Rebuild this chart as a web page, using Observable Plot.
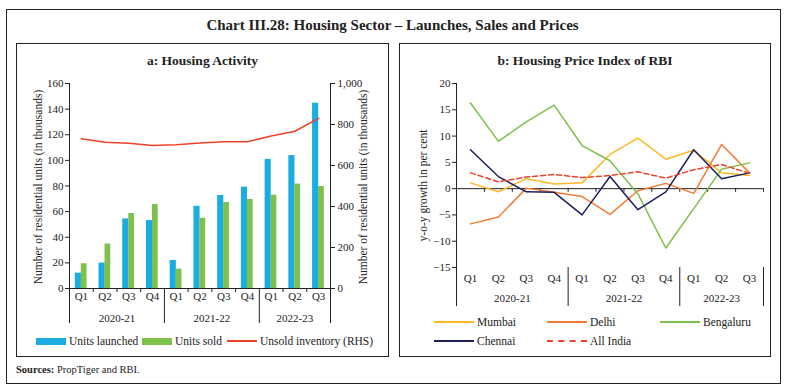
<!DOCTYPE html>
<html>
<head>
<meta charset="utf-8">
<script src="https://cdn.jsdelivr.net/npm/d3@7"></script>
<script src="https://cdn.jsdelivr.net/npm/@observablehq/plot@0.6"></script>
<style>
  html, body { margin: 0; padding: 0; background: #fff; }
  #wrap { position: relative; width: 785px; height: 387px; background: #fff; font-family: "Liberation Serif", serif; color: #222; overflow: hidden; }
  .abs { position: absolute; }
  .box { position: absolute; border: 1px solid #222; box-sizing: border-box; }
  .title { position: absolute; left: 0; width: 785px; text-align: center; font-weight: bold; font-size: 15px; top: 17px; }
  .ptitle { position: absolute; text-align: center; font-weight: bold; font-size: 13.5px; }
  .leg { position: absolute; font-size: 11.5px; line-height: 14px; white-space: nowrap; }
  .sw { position: absolute; }
  svg { overflow: visible; }
</style>
</head>
<body>
<div id="wrap">
  <div class="box" style="left:6px;top:9px;width:775px;height:375px;"></div>
  <div class="title">Chart III.28: Housing Sector – Launches, Sales and Prices</div>
  <div class="box" style="left:16px;top:43px;width:373px;height:314px;"></div>
  <div class="box" style="left:399px;top:43px;width:372px;height:314px;"></div>
  <div class="ptitle" style="left:16px;width:373px;top:53px;">a: Housing Activity</div>
  <div class="ptitle" style="left:399px;width:372px;top:53px;">b: Housing Price Index of RBI</div>
  <div id="chartA" class="abs" style="left:16px;top:43px;"></div>
  <div id="chartB" class="abs" style="left:399px;top:43px;"></div>

  <!-- legend a -->
  <div class="sw" style="left:36px;top:338px;width:30px;height:7px;background:#1AACE3;"></div>
  <div class="leg" style="left:69px;top:334px;">Units launched</div>
  <div class="sw" style="left:142px;top:338px;width:30px;height:7px;background:#7DC04B;"></div>
  <div class="leg" style="left:175px;top:334px;">Units sold</div>
  <div class="sw" style="left:227px;top:340px;width:30px;height:2px;background:#EF4129;"></div>
  <div class="leg" style="left:260px;top:334px;">Unsold inventory (RHS)</div>

  <!-- legend b -->
  <div class="sw" style="left:434px;top:321px;width:40px;height:2px;background:#FDB827;"></div>
  <div class="leg" style="left:477px;top:315px;">Mumbai</div>
  <div class="sw" style="left:547px;top:321px;width:40px;height:2px;background:#F47B34;"></div>
  <div class="leg" style="left:590px;top:315px;">Delhi</div>
  <div class="sw" style="left:660px;top:321px;width:40px;height:2px;background:#7DC04B;"></div>
  <div class="leg" style="left:703px;top:315px;">Bengaluru</div>
  <div class="sw" style="left:434px;top:340px;width:40px;height:2px;background:#1C1F5C;"></div>
  <div class="leg" style="left:477px;top:334px;">Chennai</div>
  <div class="sw" style="left:547px;top:340px;width:40px;height:0;border-top:2px dashed #EF4129;"></div>
  <div class="leg" style="left:590px;top:334px;">All India</div>

  <div class="leg" style="left:16px;top:363px;font-size:10.5px;"><b>Sources:</b> PropTiger and RBI.</div>
</div>
<script>
// ---------- data ----------
const quarters = ["Q1","Q2","Q3","Q4","Q1","Q2","Q3","Q4","Q1","Q2","Q3"];
const years = ["2020-21","2021-22","2022-23"];
const yearCenters = [2, 6, 9.5];
const yearBounds = [0, 4, 8, 11];

const unitsLaunched = [12, 19.8, 54.3, 53, 21.9, 64.2, 72.6, 79.1, 100.8, 103.7, 144.6];
const unitsSold = [19.3, 34.7, 58.5, 65.5, 15.1, 54.8, 67.1, 69.5, 72.8, 81.5, 79.6];
const unsoldInventory = [731, 713, 708, 697, 701, 710, 716, 716, 744, 767, 830];

const leftTicks = [0, 20, 40, 60, 80, 100, 120, 140, 160];
const rightTicks = [0, 200, 400, 600, 800, 1000];

const mumbai = [1.1, -0.6, 1.9, 0.9, 1.1, 6.5, 9.6, 5.6, 7.3, 3.0, 2.5];
const delhi = [-6.7, -5.4, 0.1, -0.7, -1.5, -4.9, -0.4, 1.0, -0.9, 8.4, 3.0];
const bengaluru = [16.3, 9.0, 12.7, 15.9, 8.2, 5.3, -1.0, -11.3, -3.8, 3.7, 4.9];
const chennai = [7.4, 2.3, -0.6, -0.7, -5.0, 2.3, -4.0, -0.6, 7.4, 1.9, 3.0];
const allIndia = [3.0, 1.3, 2.2, 2.7, 2.1, 2.5, 3.2, 2.0, 3.6, 4.6, 2.9];
const priceTicks = [-15, -10, -5, 0, 5, 10, 15, 20];

const C = {
  blue: "#1AACE3", green: "#7DC04B", red: "#EF4129",
  mumbai: "#FDB827", delhi: "#F47B34", bengaluru: "#7DC04B", chennai: "#1C1F5C", allIndia: "#EF4129"
};
const ink = "#222";
const font = {fontFamily: "'Liberation Serif', serif", fontSize: "11px", background: "transparent", color: ink, overflow: "visible"};

// right axis scaled onto left axis: 1000 (RHS) <-> 160 (LHS)
const ratio = 160 / 1000;
const idx = d3.range(11);
const inner = [1,2,3,5,6,7,9,10];

// ---------- chart a ----------
const chartA = Plot.plot({
  width: 373, height: 290,
  marginLeft: 53, marginRight: 59, marginTop: 40, marginBottom: 45,
  style: font,
  x: {type: "linear", domain: [0, 11]},
  y: {domain: [0, 160]},
  marks: [
    Plot.rectY(idx, {x1: i => i, x2: i => i + 1, y: i => unitsLaunched[i], fill: C.blue, insetLeft: 5.8, insetRight: 11.8}),
    Plot.rectY(idx, {x1: i => i, x2: i => i + 1, y: i => unitsSold[i], fill: C.green, insetLeft: 11.8, insetRight: 6.2}),
    Plot.line(idx, {x: i => i + 0.5, y: i => unsoldInventory[i] * ratio, stroke: C.red, strokeWidth: 1.5}),
    Plot.ruleY([0], {stroke: ink}),
    Plot.ruleX([0, 11], {stroke: ink}),
    Plot.axisY(leftTicks, {anchor: "left", tickSize: 4, tickPadding: 2, label: null, stroke: ink}),
    Plot.axisY(rightTicks.map(t => t * ratio), {anchor: "right", tickSize: 4, tickPadding: 3, label: null, tickFormat: v => d3.format(",")(Math.round(v / ratio)), stroke: ink}),
    Plot.axisX(idx.map(i => i + 0.5), {anchor: "bottom", tickSize: 0, tickPadding: 4, tickFormat: v => quarters[Math.floor(v)], label: null}),
    Plot.axisX(inner, {anchor: "bottom", tickSize: 4, tickFormat: () => "", label: null, stroke: ink}),
    Plot.axisX(yearBounds, {anchor: "bottom", tickSize: 35, tickFormat: () => "", label: null, stroke: ink}),
    Plot.axisX(yearCenters, {anchor: "bottom", tickSize: 0, tickPadding: 26, tickFormat: v => years[yearCenters.indexOf(v)], label: null}),
    Plot.text(["Number of residential units (in thousands)"], {text: d => d, frameAnchor: "left", textAnchor: "middle", rotate: -90, dx: -31, dy: 1, fontSize: 11.5, fill: ink}),
    Plot.text(["Number of residential units (in thousands)"], {text: d => d, frameAnchor: "right", textAnchor: "middle", rotate: -90, dx: 33, dy: 1, fontSize: 11.5, fill: ink})
  ]
});
document.getElementById("chartA").appendChild(chartA);

// ---------- chart b ----------
const series = [
  {name: "Mumbai", values: mumbai, color: C.mumbai, dash: null},
  {name: "Delhi", values: delhi, color: C.delhi, dash: null},
  {name: "Bengaluru", values: bengaluru, color: C.bengaluru, dash: null},
  {name: "Chennai", values: chennai, color: C.chennai, dash: null},
  {name: "All India", values: allIndia, color: C.allIndia, dash: "5,3"}
];

const chartB = Plot.plot({
  width: 372, height: 280,
  marginLeft: 57, marginRight: 8, marginTop: 40, marginBottom: 56,
  style: font,
  x: {type: "linear", domain: [0, 11]},
  y: {domain: [-15, 20]},
  marks: [
    Plot.ruleY([0], {stroke: ink}),
    Plot.ruleX(d3.range(1, 12), {x: d => d, y1: 0, y2: -0.7, stroke: ink}),
    Plot.ruleX([0], {stroke: ink}),
    ...series.map(s => Plot.line(idx, {x: i => i + 0.5, y: i => s.values[i], stroke: s.color, strokeWidth: 1.5, strokeDasharray: s.dash})),
    Plot.axisY(priceTicks, {anchor: "left", tickSize: 4, tickPadding: 2, label: null, stroke: ink}),
    Plot.axisX(idx.map(i => i + 0.5), {anchor: "bottom", tickSize: 0, tickPadding: 7, tickFormat: v => quarters[Math.floor(v)], label: null}),
    Plot.axisX(yearBounds, {anchor: "bottom", tickSize: 39, tickFormat: () => "", label: null, stroke: ink}),
    Plot.axisX(yearCenters, {anchor: "bottom", tickSize: 0, tickPadding: 27, tickFormat: v => years[yearCenters.indexOf(v)], label: null}),
    Plot.text(["y-o-y growth in per cent"], {text: d => d, frameAnchor: "left", textAnchor: "middle", rotate: -90, dx: -33, dy: 10, fontSize: 11.5, fill: ink})
  ]
});
document.getElementById("chartB").appendChild(chartB);
</script>
</body>
</html>
